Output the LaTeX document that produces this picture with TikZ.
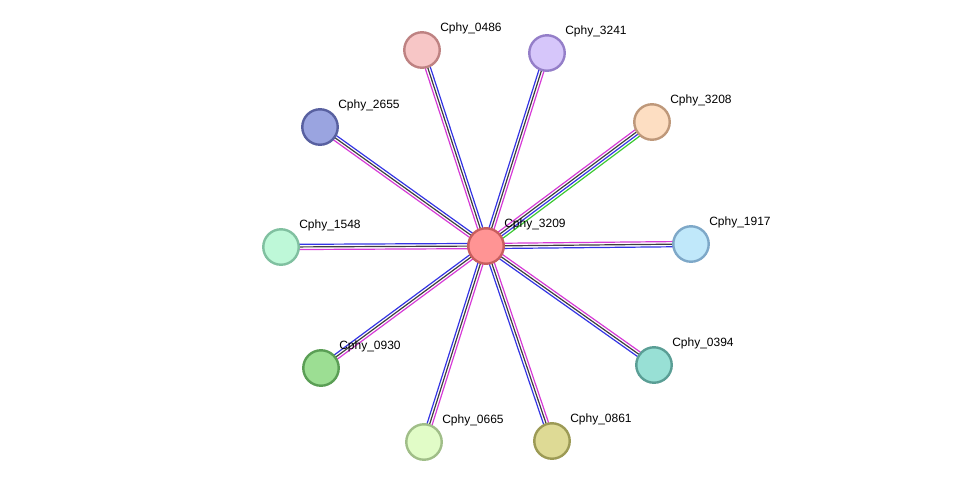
\documentclass[tikz,border=0pt]{standalone}
\usepackage{fontspec}
\setmainfont{Liberation Sans}
\usetikzlibrary{calc}
\usetikzlibrary{backgrounds}

\definecolor{evblue}{RGB}{52,52,228}
\definecolor{evgray}{RGB}{62,62,62}
\definecolor{evmagenta}{RGB}{214,58,214}
\definecolor{evgreen}{RGB}{60,200,50}

\newlength{\edgesep}
\setlength{\edgesep}{1.95pt}

% three-line evidence edge: blue on the left of #1 -> #2, magenta on the right
\newcommand{\stredge}[2]{%
  \draw [evblue,line width=0.9pt] ($(#1.center)!\edgesep!-90:(#2.center)$) -- ($(#2.center)!\edgesep!90:(#1.center)$);
  \draw [evgray,line width=0.9pt] (#1.center) -- (#2.center);
  \draw [evmagenta,line width=0.9pt] ($(#1.center)!\edgesep!90:(#2.center)$) -- ($(#2.center)!\edgesep!-90:(#1.center)$);
}
% four-line evidence edge, with green
\newcommand{\stredgeg}[2]{%
  \draw [evgreen,line width=0.9pt] ($(#1.center)!1.5\edgesep!-90:(#2.center)$) -- ($(#2.center)!1.5\edgesep!90:(#1.center)$);
  \draw [evblue,line width=0.9pt] ($(#1.center)!0.5\edgesep!-90:(#2.center)$) -- ($(#2.center)!0.5\edgesep!90:(#1.center)$);
  \draw [evgray,line width=0.9pt] ($(#1.center)!0.5\edgesep!90:(#2.center)$) -- ($(#2.center)!0.5\edgesep!-90:(#1.center)$);
  \draw [evmagenta,line width=0.9pt] ($(#1.center)!1.5\edgesep!90:(#2.center)$) -- ($(#2.center)!1.5\edgesep!-90:(#1.center)$);
}

\tikzset{
  prot/.style 2 args={circle, inner sep=0pt, minimum size=26.6pt, line width=1.8pt,
    draw={#1}, fill={#2}},
  lbl/.style={anchor=west, inner sep=0pt, font=\fontsize{9pt}{10pt}\selectfont, text=black}
}

\begin{document}
\begin{tikzpicture}[x=0.75pt,y=0.75pt,yscale=-1,xscale=1]
\useasboundingbox (0,0) rectangle (976,487);

% Proteins
\node [prot={rgb,255:red,200;green,94;blue,94}{rgb,255:red,255;green,148;blue,148}] (c3209) at (486,246) {};
\node [prot={rgb,255:red,190;green,130;blue,130}{rgb,255:red,247;green,198;blue,198}] (n0486) at (422,50) {};
\node [prot={rgb,255:red,148;green,126;blue,200}{rgb,255:red,214;green,198;blue,250}] (n3241) at (547,53) {};
\node [prot={rgb,255:red,190;green,152;blue,122}{rgb,255:red,253;green,222;blue,194}] (n3208) at (652,122) {};
\node [prot={rgb,255:red,88;green,96;blue,160}{rgb,255:red,154;green,164;blue,224}] (n2655) at (320,127) {};
\node [prot={rgb,255:red,128;green,192;blue,160}{rgb,255:red,190;green,248;blue,216}] (n1548) at (281,247) {};
\node [prot={rgb,255:red,126;green,168;blue,200}{rgb,255:red,192;green,232;blue,250}] (n1917) at (691,244) {};
\node [prot={rgb,255:red,90;green,158;blue,85}{rgb,255:red,156;green,222;blue,147}] (n0930) at (321,368) {};
\node [prot={rgb,255:red,90;green,158;blue,149}{rgb,255:red,152;green,224;blue,213}] (n0394) at (654,365) {};
\node [prot={rgb,255:red,160;green,190;blue,136}{rgb,255:red,225;green,252;blue,199}] (n0665) at (424,442) {};
\node [prot={rgb,255:red,156;green,154;blue,85}{rgb,255:red,222;green,218;blue,149}] (n0861) at (552,441) {};

% Straight Lines (evidence edges)
\begin{pgfonlayer}{background}
\stredge{n0486}{c3209}
\stredge{c3209}{n3241}
\stredgeg{n3208}{c3209}
\stredge{n2655}{c3209}
\stredge{n1548}{c3209}
\stredge{n1917}{c3209}
\stredge{n0930}{c3209}
\stredge{n0394}{c3209}
\stredge{n0665}{c3209}
\stredge{n0861}{c3209}
\end{pgfonlayer}

% Text Node
\foreach \p/\t in {c3209/3209,n0486/0486,n3241/3241,n3208/3208,n2655/2655,n1548/1548,n1917/1917,n0930/0930,n0394/0394,n0665/0665,n0861/0861}
  \node [lbl] (l\t) at ([shift={(18,-22)}]\p.center) {Cphy\_\t};

\end{tikzpicture}
\end{document}
